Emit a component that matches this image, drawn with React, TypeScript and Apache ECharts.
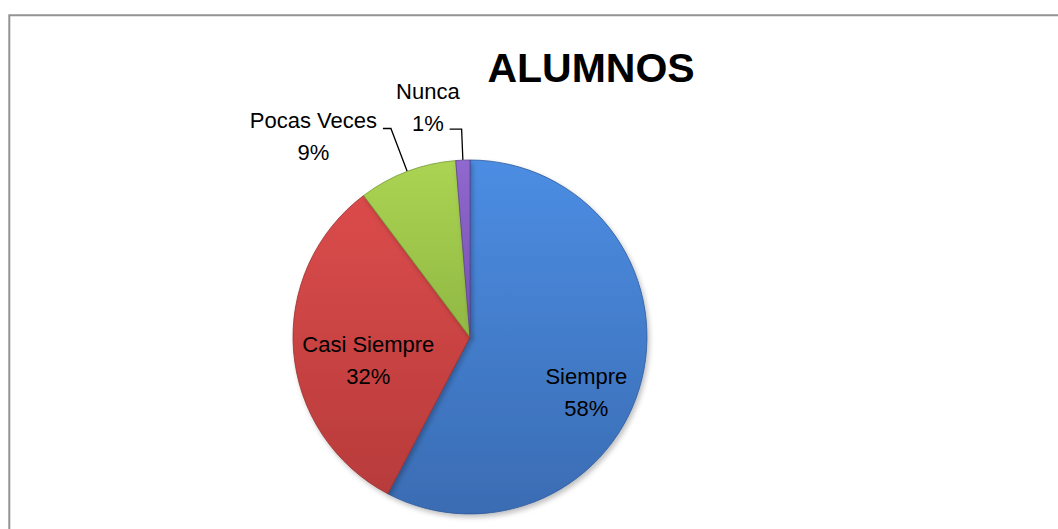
import React, { useEffect, useRef } from "react";
import * as echarts from "echarts";

const TITLE = "ALUMNOS";
const CATEGORIES = ["Siempre", "Casi Siempre", "Pocas Veces", "Nunca"];
const VALUES = [45, 25, 7, 1];
const COLORS_TOP = ["#4c8de3", "#db4b4b", "#abd453", "#9068cf"];
const COLORS_BOTTOM = ["#3a6cb3", "#b83b3b", "#90b843", "#7552b0"];
const BORDER_COLORS = ["#2f5b99", "#9a2f2f", "#76993a", "#5f4391"];
const LABEL_POSITIONS = ["inside", "inside", "outside", "outside"];

const FONT = "'Liberation Sans', Arial, sans-serif";

// per-slice label tuning (padding shifts the text box, label line lengths)
const LABEL_PADDING = [
  [67, 0, 0, 55],
  [32, 21, 0, 0],
  [17, 0, 0, 0],
  [0, 0, 44, 0],
];
const LINE_LENGTHS = [
  [0, 0],
  [0, 0],
  [46, 8],
  [31, 12],
];
const LINE_DISTANCE = [5, 5, 6, -10];

export default function App() {
  const ref = useRef<HTMLDivElement>(null);

  useEffect(() => {
    if (!ref.current) return;
    const chart = echarts.init(ref.current, undefined, { renderer: "svg" });

    const data = CATEGORIES.map((name, i) => ({
      name,
      value: VALUES[i],
      itemStyle: {
        color: new echarts.graphic.LinearGradient(0, 0, 0, 1, [
          { offset: 0, color: COLORS_TOP[i] },
          { offset: 1, color: COLORS_BOTTOM[i] },
        ]),
        borderColor: BORDER_COLORS[i],
        borderWidth: 0.8,
      },
      label: {
        position: LABEL_POSITIONS[i],
        padding: LABEL_PADDING[i],
        distanceToLabelLine: LINE_DISTANCE[i],
      },
      labelLine: {
        show: LABEL_POSITIONS[i] === "outside",
        length: LINE_LENGTHS[i][0],
        length2: LINE_LENGTHS[i][1],
      },
    }));

    chart.setOption({
      animation: false,
      backgroundColor: "#ffffff",
      title: {
        text: TITLE,
        left: 586,
        top: 42,
        textAlign: "center",
        textStyle: {
          fontFamily: FONT,
          fontWeight: "bold",
          fontSize: 41,
          color: "#000000",
        },
      },
      graphic: [
        {
          type: "rect",
          shape: { x: 9.3, y: 15.3, width: 1200, height: 700 },
          style: { fill: "none", stroke: "#939393", lineWidth: 2 },
          silent: true,
          z: -10,
        },
      ],
      series: [
        {
          type: "pie",
          center: [470, 337],
          radius: 177,
          startAngle: 90,
          clockwise: true,
          avoidLabelOverlap: false,
          percentPrecision: 0,
          itemStyle: {
            shadowBlur: 5,
            shadowOffsetX: 2,
            shadowOffsetY: 3,
            shadowColor: "rgba(0,0,0,0.25)",
          },
          label: {
            show: true,
            formatter: "{w|{b}}\n{w|{d}%}",
            color: "#000000",
            fontFamily: FONT,
            fontSize: 22,
            lineHeight: 32,
            rich: {
              w: {
                align: "center",
                color: "#000000",
                fontFamily: FONT,
                fontSize: 22,
                lineHeight: 32,
              },
            },
          },
          labelLine: {
            lineStyle: { color: "#000000", width: 1.3 },
            smooth: false,
          },
          emphasis: { disabled: true },
          data,
        },
      ],
    });

    return () => chart.dispose();
  }, []);

  return (
    <div
      ref={ref}
      style={{
        position: "fixed",
        left: 0,
        top: 0,
        width: 1058,
        height: 529,
        background: "#ffffff",
      }}
    />
  );
}
